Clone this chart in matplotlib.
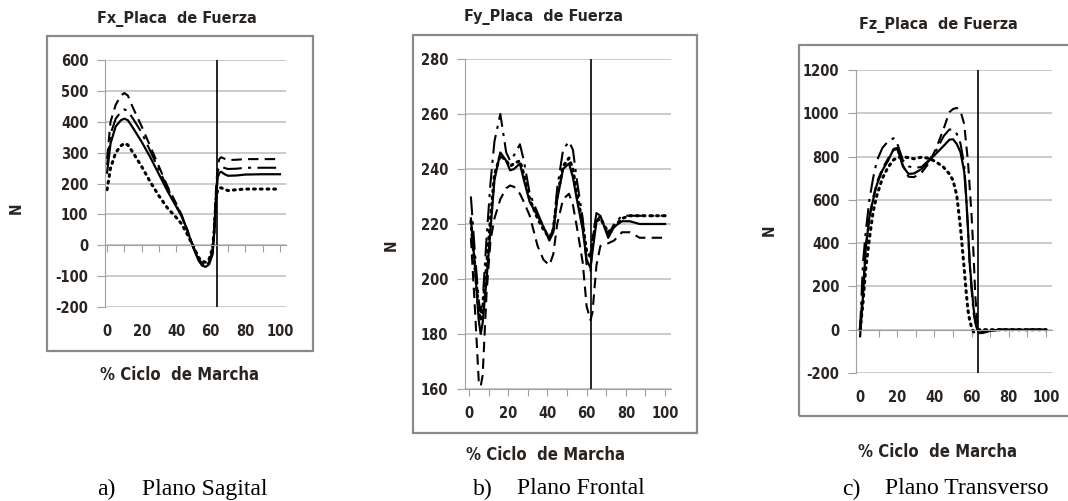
import matplotlib.pyplot as plt
from matplotlib.patches import Rectangle
from matplotlib.ticker import MultipleLocator
from matplotlib.font_manager import FontProperties

plt.rcParams['axes.unicode_minus'] = False

# ---- datos ----
x_fx = [0, 2, 5, 8, 10, 12, 15, 20, 25, 30, 35, 40, 43, 46, 50, 53, 55, 57, 59, 61,
        62, 63, 64, 65, 66, 68, 70, 75, 80, 90, 100]
fx_solid = [235, 330, 385, 405, 410, 405, 380, 335, 285, 230, 175, 125, 95, 55, -10, -50,
            -66, -70, -62, -30, 40, 150, 220, 235, 238, 230, 225, 226, 229, 230, 230]
fx_dash = [280, 400, 455, 485, 493, 485, 445, 385, 320, 255, 190, 135, 100, 55, -5, -45,
           -60, -63, -52, -20, 50, 180, 260, 280, 285, 280, 276, 277, 279, 279, 279]
fx_dashdot = [260, 360, 410, 432, 440, 435, 410, 365, 305, 245, 185, 130, 98, 55, -8, -48,
              -62, -65, -55, -25, 45, 165, 240, 252, 256, 250, 247, 248, 251, 251, 251]
fx_dot = [180, 250, 300, 322, 330, 325, 300, 255, 205, 160, 120, 90, 70, 40, -5, -40,
          -52, -55, -45, -10, 50, 150, 180, 186, 186, 181, 177, 180, 182, 182, 182]

x_fy = [1, 3, 5, 6, 7, 9, 11, 13, 16, 19, 21, 23, 26, 28, 31, 35, 38, 41, 43, 45, 48, 51,
        53, 55, 58, 60, 62, 63, 65, 67, 71, 74, 78, 82, 87, 93, 100]
fy_solid = [222, 205, 185, 180, 184, 200, 218, 236, 246, 243, 239.5, 240, 242, 236, 228,
            223, 219, 214, 217, 229, 240, 242, 237, 229, 218, 207, 204, 210, 221, 223, 215,
            219, 221, 221, 220, 220, 220]
fy_dash = [215, 190, 163, 161, 165, 195, 214, 222, 229, 233, 234, 233.5, 231, 228, 223,
           212, 207, 205, 209, 220, 229, 231, 227, 219, 206, 190, 185, 188, 205, 212, 213,
           214, 217, 217, 215, 215, 215]
fy_dashdot = [230, 210, 192, 188, 192, 215, 235, 250, 260, 246, 243, 245, 249, 243, 231,
              224, 219, 215, 218, 233, 247, 250, 247, 236, 222, 205, 203, 215, 224, 223, 216,
              220, 223, 223, 223, 223, 223]
fy_dot = [221, 205, 188, 185, 189, 205, 222, 238, 245, 243, 241, 242, 243, 238, 229, 222,
          218, 215, 218, 230, 241, 244, 240, 231, 220, 210, 208, 214, 221, 222, 217, 219,
          222, 223, 223, 223, 223]

x_fz = [0, 1.5, 3, 5, 7, 9, 12, 15, 18, 20, 23, 26, 29, 33, 37, 41, 45, 48, 50, 52, 54,
        56, 57, 58, 59, 60, 61, 62, 63, 64, 66, 70, 75, 80, 90, 100]
fz_solid = [-30, 150, 370, 520, 600, 670, 737, 780, 835, 840, 755, 720, 722, 742, 780, 815,
            850, 878, 880, 858, 820, 730, 620, 470, 300, 200, 100, 40, 5, -15, -15, -5, 0,
            0, 0, 0]
fz_dash = [0, 180, 380, 520, 610, 680, 745, 790, 830, 835, 760, 707, 705, 725, 770, 840,
           930, 1005, 1020, 1025, 1010, 950, 860, 780, 650, 520, 350, 150, 40, 0, -10, -5,
           0, 0, 0, 0]
fz_dashdot = [0, 300, 450, 600, 700, 780, 840, 870, 885, 860, 783, 755, 747, 752, 783, 830,
              895, 925, 925, 905, 860, 760, 620, 470, 290, 180, 80, 30, 0, -10, -12, -5, 0,
              0, 0, 0]
fz_dot = [0, 120, 280, 420, 545, 620, 700, 750, 785, 795, 799, 795, 790, 797, 792, 775,
          750, 720, 690, 620, 470, 280, 180, 90, 40, 10, -10, -10, -5, 0, 0, 0, 0, 0, 0, 0]

toe_off = [63.5, 62, 63.4]
titulos = ["Fx_Placa  de Fuerza", "Fy_Placa  de Fuerza", "Fz_Placa  de Fuerza"]
letras = ["a)", "b)", "c)"]
planos = ["Plano Sagital", "Plano Frontal", "Plano Transverso"]

W, H = 1068, 501
serif = ['Liberation Serif', 'DejaVu Serif']
txt_color = '#2a2420'


def cond(size):
    return FontProperties(family='DejaVu Sans', stretch='condensed', weight='bold',
                          size=size)


fig = plt.figure(figsize=(W / 100, H / 100), dpi=100)


def rect_px(x0, y0, x1, y1):
    # pixeles (y desde arriba) -> coordenadas de figura
    return [x0 / W, 1 - y1 / H, (x1 - x0) / W, (y1 - y0) / H]


def fpt(x, y):
    return x / W, 1 - y / H


def panel(ax_px, box_px, xlim, ylim, ystep, hline, series, xv, tit, tit_px, xl_px, n_px,
          cap_px, cap):
    bx = rect_px(*box_px)
    fig.patches.append(Rectangle((bx[0], bx[1]), bx[2], bx[3], transform=fig.transFigure,
                                 fill=False, edgecolor='#8a8a8a', lw=1.6))
    ax = fig.add_axes(rect_px(*ax_px))
    ax.set_xlim(*xlim)
    ax.set_ylim(*ylim)
    ax.yaxis.set_major_locator(MultipleLocator(ystep))
    ax.grid(axis='y', color='#bdbdbd', lw=1.1)
    ax.set_axisbelow(True)
    for s in ['top', 'right']:
        ax.spines[s].set_visible(False)
    ax.spines['left'].set_color('#a0a0a0')
    ax.spines['bottom'].set_color('#a0a0a0')
    ax.spines['bottom'].set_position(('data', hline))
    ax.xaxis.set_major_locator(MultipleLocator(10))
    ax.tick_params(axis='x', length=5, color='#a0a0a0', labelbottom=False)
    ax.tick_params(axis='y', length=6, color='#a0a0a0', pad=6, labelcolor=txt_color)
    for lab in ax.get_yticklabels():
        lab.set_fontproperties(cond(10.5))
    sec = ax.secondary_xaxis('bottom')
    sec.set_xticks([0, 20, 40, 60, 80, 100])
    sec.tick_params(length=0, pad=12, labelcolor=txt_color)
    sec.spines['bottom'].set_visible(False)
    for lab in sec.get_xticklabels():
        lab.set_fontproperties(cond(10.5))

    s_solid, s_dash, s_dashdot, s_dot = series
    ax.plot(xv, s_dot, color='black', lw=2.2, linestyle=(0, (0.6, 1.6)),
            dash_capstyle='round')
    ax.plot(xv, s_dash, color='black', lw=1.5, linestyle=(0, (5, 3)))
    ax.plot(xv, s_dashdot, color='black', lw=1.5, linestyle=(0, (9, 3, 1.5, 3)))
    ax.plot(xv, s_solid, color='black', lw=1.6)
    ax.axvline(tit[1], color='black', lw=1.2)

    fig.text(*fpt(*tit_px), tit[0], ha='center', va='center', fontproperties=cond(11.5),
             color=txt_color)
    fig.text(*fpt(*xl_px), "% Ciclo  de Marcha", ha='center', va='center',
             fontproperties=cond(12), color=txt_color)
    fig.text(*fpt(*n_px), "N", ha='center', va='center', rotation=90,
             fontproperties=cond(11), color=txt_color)
    fig.text(*fpt(cap_px[0], cap_px[2]), cap[0], ha='left', va='center', family=serif,
             fontsize=17, color='black')
    fig.text(*fpt(cap_px[1], cap_px[2]), cap[1], ha='left', va='center', family=serif,
             fontsize=17, color='black')
    return ax


panel((105, 60, 286, 307), (47, 36, 313, 351), (-1.2, 103.5), (-200, 600), 100, 0,
      (fx_solid, fx_dash, fx_dashdot, fx_dot), x_fx, (titulos[0], toe_off[0]), (177, 19),
      (180, 375), (16, 208), (97, 142, 489), (letras[0], planos[0]))
panel((465, 59, 671, 389), (413, 35, 697, 433), (-2, 103), (160, 280), 20, 160,
      (fy_solid, fy_dash, fy_dashdot, fy_dot), x_fy, (titulos[1], toe_off[1]), (544, 17),
      (546, 455), (391, 245), (473, 517, 489), (letras[1], planos[1]))
panel((856, 70, 1052, 373), (799, 45, 1070, 416), (-2.2, 103.2), (-200, 1200), 200, 0,
      (fz_solid, fz_dash, fz_dashdot, fz_dot), x_fz, (titulos[2], toe_off[2]), (938, 25),
      (938, 452), (769, 230), (842, 885, 489), (letras[2], planos[2]))

fig.savefig('out.png', dpi=100)
